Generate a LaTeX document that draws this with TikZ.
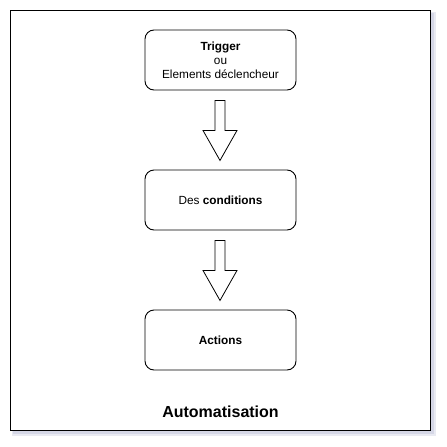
\documentclass[tikz,border=0pt]{standalone}
\usepackage{fontspec}
\setmainfont{Liberation Sans}
\definecolor{shadowc}{RGB}{200,203,222}
\begin{document}
\begin{tikzpicture}[x=1pt,y=-1pt,
  stepbox/.style={draw=black, line width=0.9pt, rounded corners=9pt, fill=white,
    minimum width=151pt, minimum height=60pt, inner sep=0pt, align=center,
    font=\fontsize{11.8}{14}\selectfont},
  downarrow/.style={draw=black, line width=0.8pt, fill=white, line join=miter}]
\useasboundingbox (0,0) rectangle (447,447);
\fill[shadowc, opacity=0.6] (13,13) rectangle (434,434);
\fill[shadowc, opacity=0.4] (12,12) rectangle (435.5,435.5);
\node[draw=black, line width=1.3pt, fill=white, minimum width=420pt, minimum height=420pt, inner sep=0pt] (frame) at (220.5,220.5) {};
\node[stepbox] (trig) at (220.5,60) {\textbf{Trigger}\\ou\\Elements déclencheur};
\node[stepbox] (cond) at (220.5,200) {Des \textbf{conditions}};
\node[stepbox] (act) at (220.5,340) {\textbf{Actions}};
\coordinate (a1) at ([xshift=-0.5pt,yshift=-10pt]trig.south);
\coordinate (a2) at ([xshift=-0.5pt,yshift=-10pt]cond.south);
\foreach \a in {a1,a2}{
  \draw[downarrow] (\a) ++(-5,0) -- ++(10,0) -- ++(0,30) -- ++(12,0) -- ++(-17,30) -- ++(-17,-30) -- ++(12,0) -- cycle;
}
\node[font=\fontsize{16}{19}\selectfont\bfseries] (title) at (220.5,412) {Automatisation};
\end{tikzpicture}
\end{document}
